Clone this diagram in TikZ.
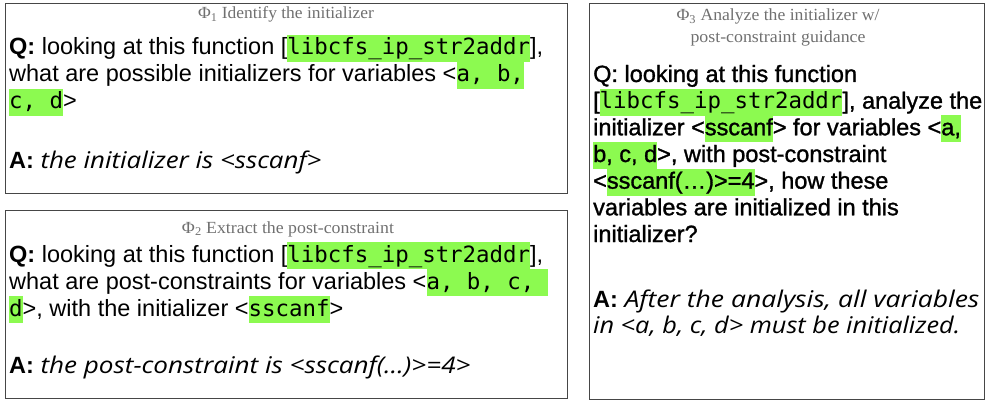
\documentclass[tikz,border=0pt]{standalone}
\usepackage{fontspec}
\usepackage{graphicx}
\setmainfont{Liberation Sans}
\newfontfamily\qfont{Liberation Sans}
\newfontfamily\qmed[FakeBold=1.2]{Liberation Sans}
\newfontfamily\monofont{DejaVu Sans Mono}
\newfontfamily\ansfont{Open Sans}
\newfontfamily\titlefont{Liberation Serif}
\definecolor{hlgreen}{RGB}{140,250,80}
\definecolor{framegray}{RGB}{70,70,70}
\definecolor{titlegray}{RGB}{112,112,112}
\newcommand{\hlbox}[1]{{\setlength{\fboxsep}{0pt}\colorbox{hlgreen}{\rule[-7pt]{0pt}{27pt}#1}}}
\newcommand{\mono}[1]{{\monofont\fontsize{22.4}{27}\selectfont #1}}
\newcommand{\fitw}[2]{\resizebox{#1}{\height}{#2}}
\newcommand{\ans}[1]{{\ansfont\itshape\fontsize{23}{27}\selectfont #1}}
\tikzset{
  framebox/.style={draw=framegray, line width=1.1pt, inner sep=0pt, anchor=north west},
  txt/.style={anchor=base west, inner sep=0pt, font=\qfont\fontsize{23.5}{27}\selectfont},
  txtm/.style={anchor=base west, inner sep=0pt, font=\qmed\fontsize{23.5}{27}\selectfont},
  ttl/.style={anchor=base, inner sep=0pt, text=titlegray, font=\titlefont\fontsize{17}{19}\selectfont}
}
\begin{document}
\begin{tikzpicture}[x=1pt,y=-1pt]
\useasboundingbox (0,0) rectangle (985,401);
% frames
\node[framebox, minimum width=562pt, minimum height=190pt] (box1) at (5,3) {};
\node[framebox, minimum width=562pt, minimum height=188pt] (box2) at (5,210) {};
\node[framebox, minimum width=395pt, minimum height=396pt] (box3) at (589,3) {};
% box 1
\node[ttl] (t1) at (286,19) {\fitw{176pt}{Φ\textsubscript{1} Identify the initializer}};
\node[txt] (b1l1) at (9,55) {\textbf{Q:} looking at this function [\hlbox{\mono{libcfs\_ip\_str2addr}}],};
\node[txt] (b1l2) at (9,82) {what are possible initializers for variables <\hlbox{\mono{a, b,}}};
\node[txt] (b1l3) at (9,109) {\hlbox{\mono{c, d}}>};
\node[txt] (b1a) at (9,168) {\textbf{A:} \fitw{281pt}{\ans{the initializer is <sscanf>}}};
% box 2
\node[ttl] (t2) at (288,233) {\fitw{212pt}{Φ\textsubscript{2} Extract the post-constraint}};
\node[txt] (b2l1) at (9,262) {\textbf{Q:} looking at this function [\hlbox{\mono{libcfs\_ip\_str2addr}}],};
\node[txt] (b2l2) at (9,289) {what are post-constraints for variables <\hlbox{\mono{a, b, c,\ }}};
\node[txt] (b2l3) at (9,316) {\hlbox{\mono{d}}>, with the initializer <\hlbox{\mono{sscanf}}>};
\node[txt] (b2a) at (9,373) {\textbf{A:} \fitw{430pt}{\ans{the post-constraint is <sscanf(…)>=4>}}};
% box 3
\node[ttl] (t3a) at (778,21) {\fitw{203pt}{Φ\textsubscript{3} Analyze the initializer w/}};
\node[ttl] (t3b) at (778,43) {\fitw{175pt}{post-constraint guidance}};
\node[txtm] (b3l1) at (593,82) {Q: looking at this function};
\node[txtm] (b3l2) at (593,108.7) {[\hlbox{\mono{libcfs\_ip\_str2addr}}], analyze the};
\node[txtm] (b3l3) at (593,135.3) {initializer <\hlbox{sscanf}> for variables <\hlbox{a,}};
\node[txtm] (b3l4) at (593,162) {\hlbox{b, c, d}>, with post-constraint};
\node[txtm] (b3l5) at (593,188.7) {<\hlbox{sscanf(…)>=4}>, how these};
\node[txtm] (b3l6) at (593,215.3) {variables are initialized in this};
\node[txtm] (b3l7) at (593,242) {initializer?};
\node[txt] (b3a1) at (593,307) {\textbf{A:} \fitw{355pt}{\ans{After the analysis, all variables}}};
\node[txt] (b3a2) at (593,333) {\fitw{367pt}{\ans{in <a, b, c, d> must be initialized.}}};
\end{tikzpicture}
\end{document}
